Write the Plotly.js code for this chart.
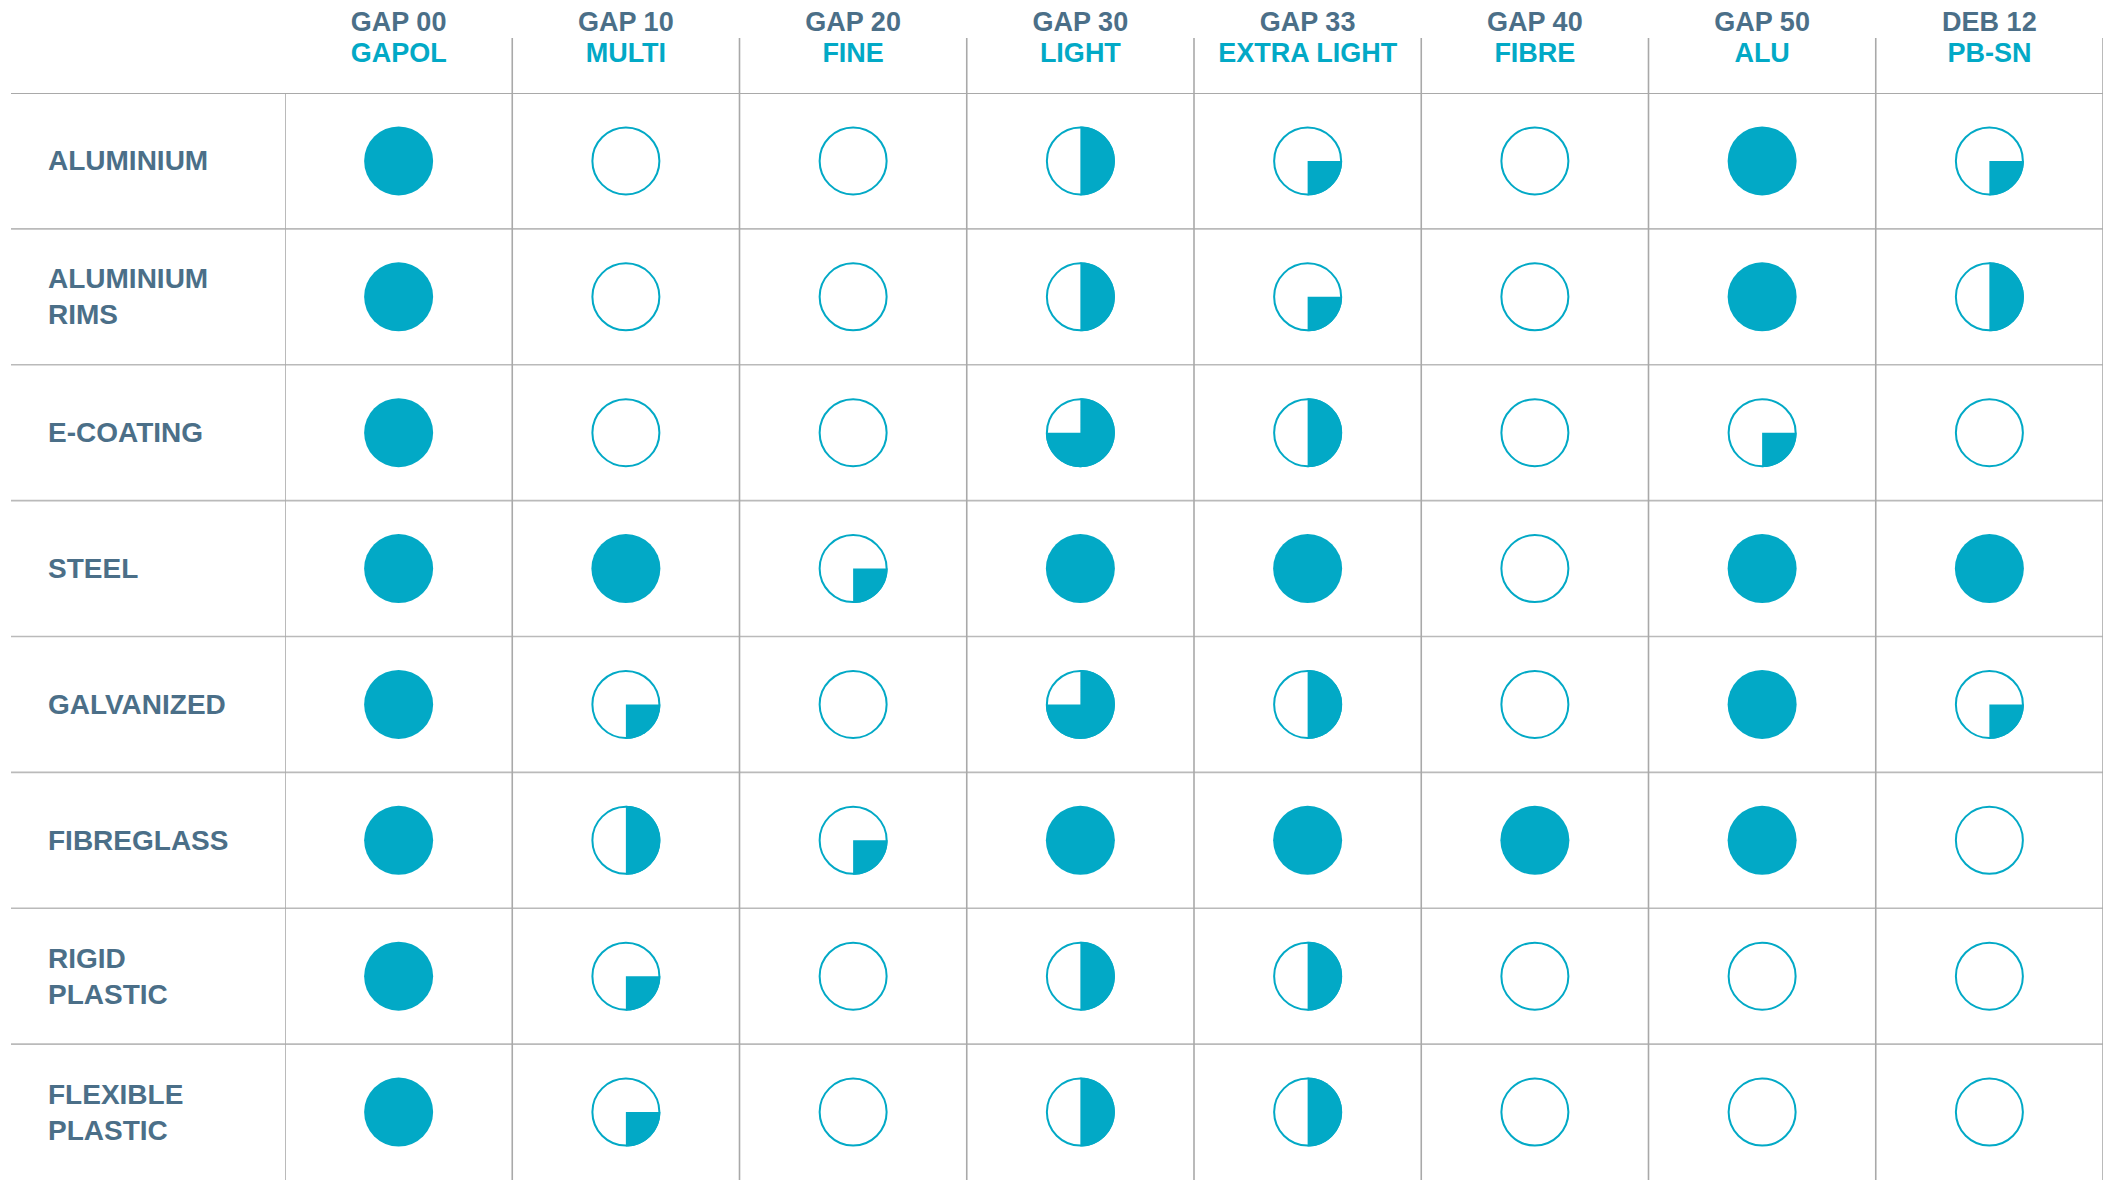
<!DOCTYPE html>
<html>
<head>
<meta charset="utf-8">
<script src="https://cdn.plot.ly/plotly-3.0.1.min.js"></script>
<style>html,body{margin:0;padding:0;background:#fff;}#chart{width:2111px;height:1180px;}</style>
</head>
<body>
<div id="chart"></div>
<script>
// ---- data ----
const columnCodes = ['GAP 00','GAP 10','GAP 20','GAP 30','GAP 33','GAP 40','GAP 50','DEB 12'];
const columnNames = ['GAPOL','MULTI','FINE','LIGHT','EXTRA LIGHT','FIBRE','ALU','PB-SN'];
const materials = ['ALUMINIUM','ALUMINIUM RIMS','E-COATING','STEEL','GALVANIZED','FIBREGLASS','RIGID PLASTIC','FLEXIBLE PLASTIC'];
// suitability per material, one value per column (0, 0.25, 0.5, 0.75, 1)
const aluminium       = [1, 0,    0,    0.5,  0.25, 0, 1,    0.25];
const aluminiumRims   = [1, 0,    0,    0.5,  0.25, 0, 1,    0.5];
const eCoating        = [1, 0,    0,    0.75, 0.5,  0, 0.25, 0];
const steel           = [1, 1,    0.25, 1,    1,    0, 1,    1];
const galvanized      = [1, 0.25, 0,    0.75, 0.5,  0, 1,    0.25];
const fibreglass      = [1, 0.5,  0.25, 1,    1,    1, 1,    0];
const rigidPlastic    = [1, 0.25, 0,    0.5,  0.5,  0, 0,    0];
const flexiblePlastic = [1, 0.25, 0,    0.5,  0.5,  0, 0,    0];
const ratings = [aluminium, aluminiumRims, eCoating, steel, galvanized, fibreglass, rigidPlastic, flexiblePlastic];

// ---- style ----
const TEAL = '#02a9c6';
const SLATE = '#4b6f88';
const VLINE = '#a9a9a9';
const HLINE = '#bababa';
const FONT = 'Liberation Sans, Arial, sans-serif';
const W = 2111, H = 1180;
const M = {l: 285, r: 8, t: 93, b: 0};
const plotW = W - M.l - M.r, plotH = H - M.t - M.b;
const R = 34.5;          // outer radius of a ball, px
const LW = 2;            // outline width, px

// ---- traces ----
const openX = [], openY = [], fullX = [], fullY = [];
const shapes = [];
function wedgePath(frac) {
  const start = frac === 0.75 ? -180 : -90;
  const sweep = frac * 360;
  const n = Math.round(frac * 96);
  let p = 'M 0 0';
  for (let i = 0; i <= n; i++) {
    const a = (start + sweep * i / n) * Math.PI / 180;
    p += ' L ' + (R * Math.cos(a)).toFixed(2) + ' ' + (R * Math.sin(a)).toFixed(2);
  }
  return p + ' Z';
}
materials.forEach((mat, r) => {
  ratings[r].forEach((v, c) => {
    if (v >= 1) { fullX.push(columnCodes[c]); fullY.push(mat); }
    else {
      openX.push(columnCodes[c]); openY.push(mat);
      if (v > 0) {
        shapes.push({type: 'path', xref: 'x', yref: 'y', xsizemode: 'pixel', ysizemode: 'pixel',
          xanchor: columnCodes[c], yanchor: mat, path: wedgePath(v),
          fillcolor: TEAL, line: {width: 0}, layer: 'above'});
      }
    }
  });
});

const traces = [
  {type: 'scatter', mode: 'markers', x: openX, y: openY, hoverinfo: 'skip', xaxis: 'x', yaxis: 'y',
   marker: {symbol: 'circle', size: 2 * R - LW, color: '#ffffff', line: {color: TEAL, width: LW}}},
  {type: 'scatter', mode: 'markers', x: fullX, y: fullY, hoverinfo: 'skip', xaxis: 'x2', yaxis: 'y',
   marker: {symbol: 'circle', size: 2 * R, color: TEAL, line: {width: 0}}}
];

// ---- grid lines ----
const leftPaper = -(M.l - 11) / plotW;
const headTop = 1 + (M.t - 38) / plotH;
for (let i = 0; i <= materials.length - 1; i++) {
  shapes.push({type: 'line', xref: 'paper', yref: 'y', x0: leftPaper, x1: 1, y0: i - 0.5, y1: i - 0.5,
    line: {color: i === 0 ? '#a9a9a9' : HLINE, width: i === 0 ? 2 : 1.6}, layer: 'below'});
}
for (let j = 0; j <= columnCodes.length; j++) {
  shapes.push({type: 'line', xref: 'x', yref: 'paper', x0: j - 0.5, x1: j - 0.5, y0: 0, y1: j === 0 ? 1 : headTop,
    line: {color: VLINE, width: 1.6}, layer: 'below'});
}

// ---- row labels ----
const annotations = materials.map(mat => ({
  xref: 'paper', yref: 'y', x: -(M.l - 46) / plotW, y: mat, xanchor: 'left', yanchor: 'middle',
  align: 'left', showarrow: false, text: mat.replace(' ', '<br>'),
  font: {family: FONT, size: 28, color: SLATE, weight: 'bold'}
}));

const xBase = {type: 'category', categoryorder: 'array', categoryarray: columnCodes,
  range: [-0.5, columnCodes.length - 0.5], side: 'top', showgrid: false, zeroline: false,
  showline: false, ticks: '', fixedrange: true, tickmode: 'array', tickvals: columnCodes};

const layout = {
  width: W, height: H, margin: M, paper_bgcolor: '#ffffff', plot_bgcolor: '#ffffff',
  showlegend: false, hovermode: false,
  xaxis: Object.assign({}, xBase, {ticktext: columnCodes,
    tickfont: {family: FONT, size: 27, color: SLATE, weight: 'bold'}, ticklabelstandoff: 56}),
  xaxis2: Object.assign({}, xBase, {overlaying: 'x', anchor: 'y', ticktext: columnNames,
    tickfont: {family: FONT, size: 27, color: TEAL, weight: 'bold'}, ticklabelstandoff: 25}),
  yaxis: {type: 'category', categoryorder: 'array', categoryarray: materials, range: [materials.length - 0.5, -0.5],
    showgrid: false, zeroline: false, showline: false, showticklabels: false, ticks: '', fixedrange: true},
  shapes: shapes, annotations: annotations
};
Plotly.newPlot('chart', traces, layout, {displayModeBar: false, staticPlot: true});
</script>
</body>
</html>
